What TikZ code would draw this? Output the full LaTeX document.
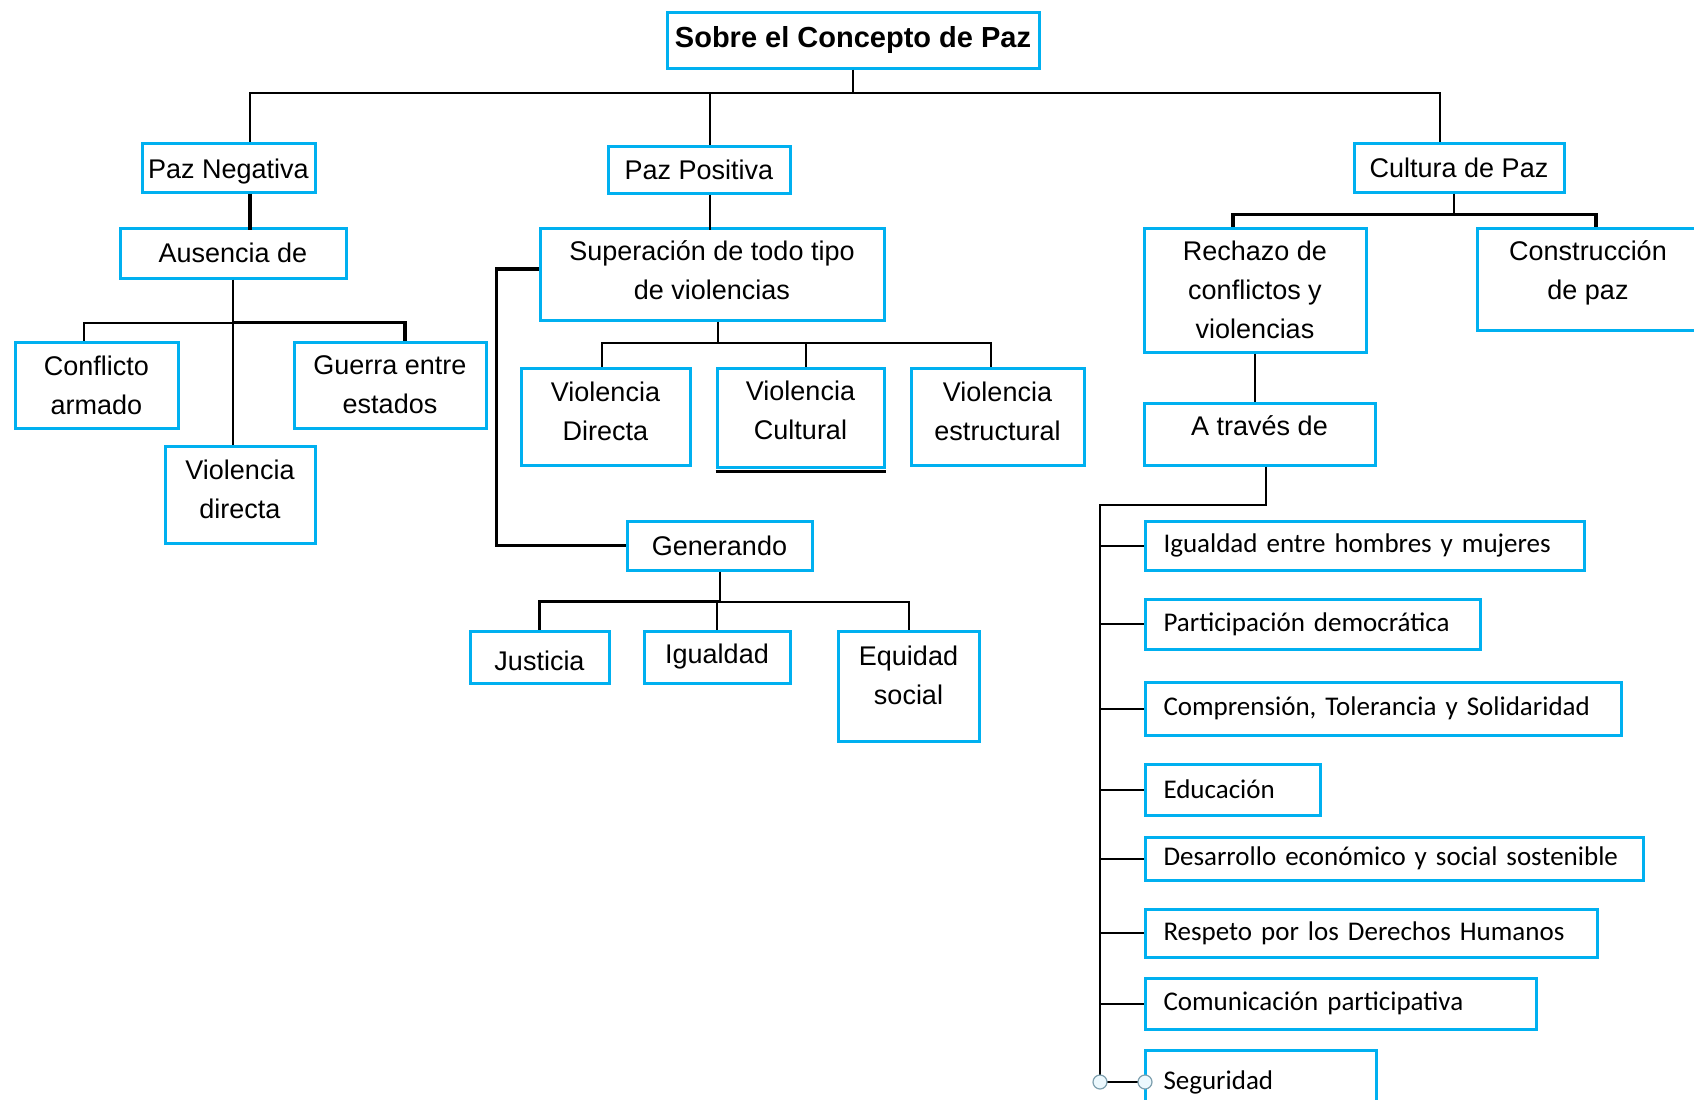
\documentclass[tikz,border=0pt]{standalone}
\usepackage{fontspec}
\setmainfont{Liberation Sans}
\newfontfamily\listfont{Carlito}
\definecolor{boxblue}{RGB}{0,176,240}
\tikzset{
  box/.style 2 args={draw=boxblue, line width=1.5pt, minimum width=#1*0.5pt, minimum height=#2*0.5pt,
    inner sep=0pt, align=center, font=\fontsize{13.5}{19.5}\selectfont},
  listbox/.style 2 args={draw=boxblue, line width=1.5pt, anchor=west, text width=#1*0.5pt-18pt,
    minimum height=#2*0.5pt, inner xsep=9pt, inner ysep=0pt, align=left, font=\listfont\fontsize{13.5}{16}\selectfont},
  link/.style={line width=1pt},
  heavy/.style={line width=1.6pt},
  handle/.style={draw=gray!70!cyan, fill=gray!10!cyan!8, line width=0.6pt},
}

\begin{document}
\begin{tikzpicture}[x=0.5pt, y=-0.5pt]
  \useasboundingbox (0,0) rectangle (1694,1099);
  \clip (0,0) rectangle (1694,1099);

  % tree
  \node[box={372}{56}, font=\bfseries\fontsize{14.5}{17}\selectfont] (title) at (853,40) {Sobre el Concepto de Paz};
  \node[box={173}{49}, text height=13.7pt] (pneg) at (228.5,167.5) {Paz Negativa};
  \node[box={182}{47}] (ppos) at (699,169.5) {Paz Positiva};
  \node[box={210}{49}] (cult) at (1459,167.5) {Cultura de Paz};
  \node[box={226}{50}] (ausen) at (233,253) {Ausencia de};
  \node[box={344}{92}, text depth=4pt] (super) at (712,274) {Superación de todo tipo\\de violencias};
  \node[box={222}{124}] (rech) at (1255,290) {Rechazo de\\conflictos y\\violencias};
  \node[box={222}{102}, text depth=8.8pt] (constr) at (1588,279) {Construcción\\de paz};
  \node[box={163}{86}] (conf) at (96.5,385) {Conflicto\\armado};
  \node[box={192}{86}] (guerra) at (390,385) {Guerra entre\\estados};
  \node[box={150}{97}, text depth=5pt] (vdir) at (240,494.5) {Violencia\\directa};
  \node[box={169}{97}, text depth=5pt] (vd) at (605.5,416.5) {Violencia\\Directa};
  \node[box={167}{99}, text depth=7pt] (vc) at (800.5,417.5) {Violencia\\Cultural};
  \node[box={173}{97}, text depth=5pt] (vest) at (997.5,416.5) {Violencia\\estructural};
  \node[box={231}{62}, text depth=8pt] (atrav) at (1259.5,434) {A través de};
  \node[box={185}{49}] (gen) at (719.5,545.5) {Generando};
  \node[box={139}{52}, text height=13.7pt] (just) at (539.5,657) {Justicia};
  \node[box={146}{52}] (igual) at (717,657) {Igualdad};
  \node[box={141}{110}, text depth=11pt] (equid) at (908.5,686) {Equidad\\social};
  \draw[line width=1.5pt] ([yshift=-1.5pt]vc.south west) -- ([yshift=-1.5pt]vc.south east);

  % list
  \foreach \w/\h/\y/\t [count=\i] in {439/49/545.5/Igualdad entre hombres y mujeres,
      335/50/624/Participación democrática, 476/53/708.5/{Comprensión, Tolerancia y Solidaridad},
      175/51/789.5/Educación, 498/43/858.5/Desarrollo económico y social sostenible,
      452/48/933/Respeto por los Derechos Humanos, 391/51/1003.5/Comunicación participativa,
      231/64/1082/Seguridad}
    \node[listbox={\w}{\h}] (item\i) at (1144,\y) {\mbox{\t}};

  % connectors
  \draw[link] (title.south) -- ++(0,23) coordinate (bus);
  \foreach \n/\s in {pneg/10.75pt, ppos/5.5pt, cult/-9.5pt}
    \draw[link] (bus) -| ([xshift=\s]\n.north);
  \draw[heavy] ([xshift=10.75pt]pneg.south) -- ++(0,36);
  \draw[link] (ausen.south) -- (ausen.south |- vdir.north);
  \draw[link] (ausen.south) ++(0,43) coordinate (b2) -| ([xshift=-6.25pt]conf.north);
  \draw[heavy] (b2) -| ([xshift=7.5pt]guerra.north);
  \draw[link] ([xshift=5.5pt]ppos.south) -- ++(0,35);
  \draw[link] ([xshift=3pt]super.south) -- ++(0,21) coordinate (b3);
  \foreach \n/\s in {vd/-1.75pt, vc/2.75pt, vest/-3.25pt}
    \draw[link] (b3) -| ([xshift=\s]\n.north);
  \draw[heavy] ([yshift=2.5pt]super.west) -- ++(-42,0) |- (gen.west);
  \draw[link] (gen.south) -- ++(0,30) coordinate (b4);
  \draw[heavy] (b4) -| (just.north);
  \draw[link] (b4) -| (igual.north);
  \draw[link] (b4) -| (equid.north);
  \draw[link] ([xshift=-2.5pt]cult.south) -- ++(0,21) coordinate (b5);
  \draw[heavy] (b5) -| ([xshift=-11pt]rech.north);
  \draw[heavy] (b5) -| ([xshift=4pt]constr.north);
  \draw[link] (rech.south) -- (rech.south |- atrav.north);
  \draw[link] ([xshift=3.25pt]atrav.south) -- ++(0,38) -- ++(-166,0) coordinate (trunk)
    -- (trunk |- item8.west);
  \foreach \i in {1,...,8}
    \draw[link] (trunk |- item\i.west) -- (item\i.west);
  \draw[handle] (trunk |- item8.west) circle[radius=3.5pt];
  \draw[handle] ([xshift=0.5pt]item8.west) circle[radius=3.5pt];
\end{tikzpicture}
\end{document}
